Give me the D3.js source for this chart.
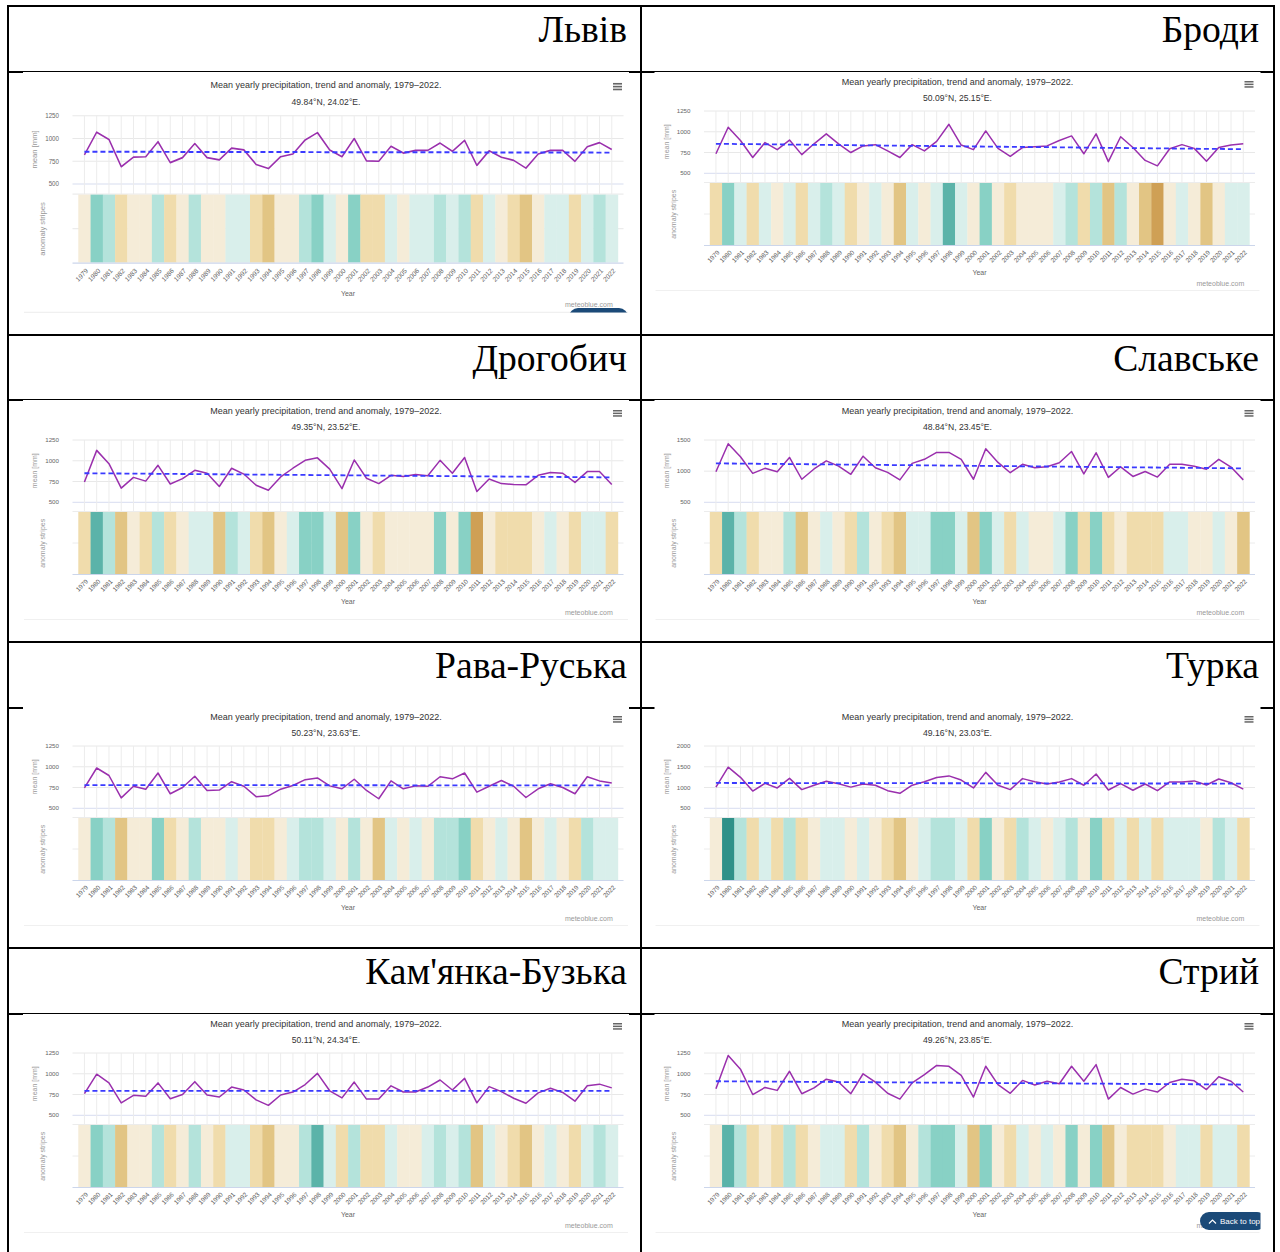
<!DOCTYPE html>
<html>
<head>
<meta charset="utf-8">
<script src="https://cdn.jsdelivr.net/npm/d3@7"></script>
<style>
  html, body { margin: 0; padding: 0; background: #fff; }
  svg { display: block; }
</style>
</head>
<body>
<svg id="page" width="1280" height="1252"></svg>
<script>
// ---------- categories ----------
const years = [1979, 1980, 1981, 1982, 1983, 1984, 1985, 1986, 1987, 1988,
               1989, 1990, 1991, 1992, 1993, 1994, 1995, 1996, 1997, 1998,
               1999, 2000, 2001, 2002, 2003, 2004, 2005, 2006, 2007, 2008,
               2009, 2010, 2011, 2012, 2013, 2014, 2015, 2016, 2017, 2018,
               2019, 2020, 2021, 2022];

const stationNames = ["Львів", "Броди", "Дрогобич", "Славське",
                      "Рава-Руська", "Турка", "Кам'янка-Бузька", "Стрий"];
const stationCoords = ["49.84°N, 24.02°E.", "50.09°N, 25.15°E.", "49.35°N, 23.52°E.", "48.84°N, 23.45°E.",
                       "50.23°N, 23.63°E.", "49.16°N, 23.03°E.", "50.11°N, 24.34°E.", "49.26°N, 23.85°E."];
const chartTitle = "Mean yearly precipitation, trend and anomaly, 1979–2022.";

// ---------- y-axis ticks [mm] ----------
const ticks1250 = [500, 750, 1000, 1250];
const ticks1500 = [500, 1000, 1500];
const ticks2000 = [500, 1000, 1500, 2000];

// ---------- mean yearly precipitation [mm] ----------
const lvivPrecip = [820, 1070, 990, 690, 795, 800, 965, 735, 790, 945,
                    790, 765, 895, 875, 715, 670, 800, 830, 985, 1065,
                    875, 800, 1000, 755, 750, 915, 840, 870, 870, 950,
                    860, 980, 705, 865, 795, 760, 675, 830, 870, 870,
                    750, 910, 955, 880];
const brodyPrecip = [735, 1055, 895, 690, 870, 785, 900, 725, 855, 975,
                     855, 750, 830, 845, 770, 690, 845, 770, 885, 1090,
                     840, 785, 1010, 800, 705, 810, 820, 830, 895, 950,
                     735, 975, 640, 940, 810, 655, 590, 795, 845, 800,
                     645, 810, 840, 855];
const drohobychPrecip = [745, 1125, 965, 670, 800, 755, 945, 720, 785, 885,
                         850, 690, 910, 840, 705, 645, 805, 910, 1005, 1035,
                         900, 665, 1010, 790, 725, 825, 810, 835, 820, 1005,
                         850, 1040, 630, 780, 725, 715, 710, 825, 860, 850,
                         740, 870, 870, 715];
const slavskePrecip = [990, 1440, 1230, 965, 1045, 990, 1220, 870, 1035, 1165,
                       1080, 950, 1240, 1055, 980, 860, 1125, 1190, 1300, 1300,
                       1190, 870, 1360, 1140, 975, 1110, 1055, 1070, 1135, 1315,
                       955, 1295, 900, 1070, 915, 995, 905, 1110, 1110, 1080,
                       1030, 1190, 1065, 860];
const ravaPrecip = [745, 985, 895, 625, 765, 730, 925, 675, 750, 885,
                    715, 720, 820, 765, 640, 650, 730, 775, 845, 865,
                    770, 735, 850, 715, 615, 830, 735, 770, 765, 880,
                    855, 925, 695, 765, 835, 765, 630, 735, 795, 750,
                    675, 880, 830, 805];
const turkaPrecip = [1010, 1490, 1245, 915, 1100, 990, 1220, 950, 1055, 1150,
                     1090, 1010, 1085, 1055, 925, 860, 1055, 1140, 1240, 1280,
                     1180, 990, 1365, 1055, 950, 1215, 1140, 1085, 1135, 1215,
                     1055, 1325, 940, 1095, 935, 1085, 925, 1135, 1135, 1160,
                     1060, 1205, 1115, 960];
const kamiankaPrecip = [760, 995, 890, 650, 740, 730, 890, 700, 750, 905,
                        745, 720, 840, 805, 685, 620, 745, 780, 870, 1005,
                        795, 710, 900, 695, 695, 855, 780, 780, 840, 925,
                        805, 945, 650, 845, 785, 705, 645, 770, 825, 775,
                        670, 855, 875, 830];
const stryiPrecip = [820, 1220, 1055, 750, 835, 800, 1030, 760, 830, 935,
                     900, 760, 1000, 900, 765, 695, 890, 990, 1100, 1090,
                     980, 720, 1090, 870, 765, 920, 865, 910, 880, 1090,
                     910, 1110, 695, 835, 755, 815, 780, 895, 935, 915,
                     810, 965, 910, 780];

// ---------- linear trend, 1979 and 2022 [mm] ----------
const lvivTrend = [855, 845];
const brodyTrend = [855, 790];
const drohobychTrend = [850, 800];
const slavskeTrend = [1125, 1045];
const ravaTrend = [780, 775];
const turkaTrend = [1110, 1095];
const kamiankaTrend = [795, 795];
const stryiTrend = [910, 870];

// ---------- anomaly stripe classes (-4 driest ... +5 wettest) ----------
const lvivStripes = [-1, 3, 2, -2, -1, -1, 2, -2, -1, 2,
                     -1, -1, 1, 1, -2, -3, -1, -1, 2, 3,
                     1, -1, 3, -2, -2, 1, -1, 1, 1, 2,
                     1, 2, -2, 1, -1, -2, -3, -1, 1, 1,
                     -2, 1, 2, 1];
const brodyStripes = [-2, 3, 1, -2, 1, -1, 1, -2, 1, 2,
                      1, -2, -1, 1, -1, -3, 1, -1, 1, 4,
                      1, -1, 3, -1, -2, -1, -1, -1, 1, 2,
                      -2, 2, -3, 2, -1, -3, -4, -1, 1, -1,
                      -3, -1, 1, 1];
const drohobychStripes = [-2, 4, 2, -3, -1, -2, 2, -2, -1, 1,
                          1, -3, 2, 1, -2, -3, -1, 1, 3, 3,
                          1, -3, 3, -1, -2, -1, -1, -1, -1, 3,
                          -1, 3, -4, -1, -2, -2, -2, -1, 1, -1,
                          -2, 1, 1, -2];
const slavskeStripes = [-2, 4, 2, -2, -1, -1, 2, -3, -1, 1,
                        -1, -2, 2, -1, -2, -3, 1, 1, 3, 3,
                        1, -3, 3, 1, -2, 1, -1, -1, 1, 3,
                        -2, 3, -2, -1, -2, -2, -2, 1, 1, -1,
                        -1, 1, -1, -3];
const ravaStripes = [-1, 3, 2, -3, -1, -1, 3, -2, -1, 2,
                     -1, -1, 1, -1, -2, -2, -1, 1, 2, 2,
                     1, -1, 2, -1, -3, 1, -1, 1, -1, 2,
                     2, 3, -2, -1, 1, -1, -3, -1, 1, -1,
                     -2, 2, 1, 1];
const turkaStripes = [-1, 5, 2, -2, 1, -2, 2, -2, -1, 1,
                      1, -1, 1, -1, -2, -3, -1, 1, 2, 2,
                      1, -2, 3, -1, -2, 2, 1, -1, 1, 2,
                      -1, 3, -2, 1, -2, 1, -2, 1, 1, 1,
                      -1, 2, 1, -2];
const kamiankaStripes = [-1, 3, 2, -3, -1, -1, 2, -2, -1, 2,
                         -1, -2, 1, 1, -2, -3, -1, -1, 2, 4,
                         1, -2, 2, -2, -2, 1, -1, -1, 1, 2,
                         1, 2, -3, 1, -1, -2, -3, -1, 1, -1,
                         -2, 1, 2, 1];
const stryiStripes = [-1, 4, 2, -2, -1, -2, 2, -2, -1, 1,
                      1, -2, 2, -1, -2, -3, -1, 2, 3, 3,
                      1, -3, 3, -1, -2, 1, -1, 1, -1, 3,
                      -1, 3, -3, -1, -2, -2, -2, -1, 1, 1,
                      -2, 1, 1, -2];

// panel table assembled from the arrays above
const panels = [
  { precip: lvivPrecip,      trend: lvivTrend,      stripes: lvivStripes,      ticks: ticks1250 },
  { precip: brodyPrecip,     trend: brodyTrend,     stripes: brodyStripes,     ticks: ticks1250 },
  { precip: drohobychPrecip, trend: drohobychTrend, stripes: drohobychStripes, ticks: ticks1250 },
  { precip: slavskePrecip,   trend: slavskeTrend,   stripes: slavskeStripes,   ticks: ticks1500 },
  { precip: ravaPrecip,      trend: ravaTrend,      stripes: ravaStripes,      ticks: ticks1250 },
  { precip: turkaPrecip,     trend: turkaTrend,     stripes: turkaStripes,     ticks: ticks2000 },
  { precip: kamiankaPrecip,  trend: kamiankaTrend,  stripes: kamiankaStripes,  ticks: ticks1250 },
  { precip: stryiPrecip,     trend: stryiTrend,     stripes: stryiStripes,     ticks: ticks1250 }
].map((p, i) => Object.assign(p, { name: stationNames[i], coord: stationCoords[i] }));

// ---------- page layout ----------
const SANS = "'Liberation Sans', Arial, Helvetica, sans-serif";
const SERIF = "'Liberation Serif', 'Times New Roman', serif";
const tableRules = [6, 72, 335, 400, 642, 708, 948, 1014];
const tableCols = [8, 641, 1274];
const headerTops = [6, 335, 642, 948];
const headerRight = [627, 1259];
const chartX0 = [23, 654.5];
const chartW = 606;
// content origin, vertical stretch and white image box of each chart
const boxes = [
  { col: 0, T: 72,   sy: 1.095, top: 72,    bottom: 333 },
  { col: 1, T: 71,   sy: 1,     top: 72,    bottom: 333 },
  { col: 0, T: 400,  sy: 1,     top: 400,   bottom: 640 },
  { col: 1, T: 400,  sy: 1,     top: 400,   bottom: 640 },
  { col: 0, T: 706,  sy: 1,     top: 706.5, bottom: 946 },
  { col: 1, T: 706,  sy: 1,     top: 706.5, bottom: 946 },
  { col: 0, T: 1013, sy: 1,     top: 1014,  bottom: 1252 },
  { col: 1, T: 1013, sy: 1,     top: 1014,  bottom: 1252 }
];

const stripeColor = d3.scaleOrdinal()
  .domain([-4, -3, -2, -1, 1, 2, 3, 4, 5])
  .range(["#cfa055", "#e2c584", "#f0dcac", "#f5ecd8", "#d9efeb", "#b4e3db", "#88d1c5", "#5bb3a9", "#2f9189"]);

const svg = d3.select("#page");

// table rules
svg.append("g").selectAll("line").data(tableRules).join("line")
  .attr("x1", 7).attr("x2", 1275).attr("y1", d => d).attr("y2", d => d)
  .attr("stroke", "#000").attr("stroke-width", 2);
svg.append("g").selectAll("line").data(tableCols).join("line")
  .attr("x1", d => d).attr("x2", d => d).attr("y1", 5).attr("y2", 1252)
  .attr("stroke", "#000").attr("stroke-width", 2);

// station headers
svg.append("g").selectAll("text").data(panels).join("text")
  .attr("x", (d, i) => headerRight[i % 2])
  .attr("y", (d, i) => headerTops[Math.floor(i / 2)] + 36)
  .attr("text-anchor", "end")
  .style("font-family", SERIF).style("font-size", "37.6px").attr("fill", "#000")
  .text(d => d.name);

function drawChart(p, box) {
  const x0 = chartX0[box.col];
  svg.append("rect").attr("x", x0).attr("y", box.top)
    .attr("width", chartW).attr("height", box.bottom - box.top).attr("fill", "#fff");

  const g = svg.append("g").attr("transform", `translate(${x0},${box.T}) scale(1,${box.sy})`);

  const x = d3.scaleBand().domain(years).range([55.3, 594.9]);
  const xc = yr => x(yr) + x.bandwidth() / 2;
  const y = d3.scaleLinear().domain([500, d3.max(p.ticks)]).range([102.3, 40]);

  // title, subtitle
  g.append("text").attr("x", 303).attr("y", 14.2).attr("text-anchor", "middle")
    .style("font-family", SANS).style("font-size", "9px").attr("fill", "#333").text(chartTitle);
  g.append("text").attr("x", 303).attr("y", 29.7).attr("text-anchor", "middle")
    .style("font-family", SANS).style("font-size", "8.6px").attr("fill", "#333").text(p.coord);

  // export menu icon
  g.append("g").selectAll("rect").data([0, 1, 2]).join("rect")
    .attr("x", 590).attr("y", d => 10 + d * 2.6).attr("width", 9).attr("height", 1.5).attr("fill", "#666");

  // horizontal grid of the precipitation pane
  g.append("g").selectAll("line").data(p.ticks).join("line")
    .attr("x1", 49.5).attr("x2", 600.5).attr("y1", d => y(d)).attr("y2", d => y(d))
    .attr("stroke", d => d === 500 ? "#d8ddf0" : "#e8e8e8").attr("stroke-width", 1);

  // vertical grid
  g.append("g").selectAll("line").data(years).join("line")
    .attr("x1", d => xc(d)).attr("x2", d => xc(d)).attr("y1", y(d3.max(p.ticks))).attr("y2", 111.5)
    .attr("stroke", "#ececec").attr("stroke-width", 1);

  // stripes pane grid
  g.append("g").selectAll("line").data([111.5, 143]).join("line")
    .attr("x1", 49.5).attr("x2", 600.5).attr("y1", d => d).attr("y2", d => d)
    .attr("stroke", "#ececec").attr("stroke-width", 1);

  // anomaly stripes
  g.append("g").selectAll("rect").data(years).join("rect")
    .attr("x", d => x(d)).attr("y", 112).attr("width", x.bandwidth() + 0.3).attr("height", 62)
    .attr("fill", (d, i) => stripeColor(p.stripes[i]));

  g.append("line").attr("x1", 49.5).attr("x2", 600.5).attr("y1", 174.5).attr("y2", 174.5)
    .attr("stroke", "#ccd6eb").attr("stroke-width", 1.2);

  // y tick labels
  g.append("g").selectAll("text").data(p.ticks).join("text")
    .attr("x", 36).attr("y", d => y(d)).attr("dy", "0.35em").attr("text-anchor", "end")
    .style("font-family", SANS).style("font-size", "6.2px").attr("fill", "#666").text(d => d);

  // axis titles
  g.append("text").attr("transform", "translate(12,70.7) rotate(-90)").attr("dy", "0.35em")
    .attr("text-anchor", "middle").style("font-family", SANS).style("font-size", "7px")
    .attr("fill", "#999").text("mean [mm]");
  g.append("text").attr("transform", "translate(19.5,143.3) rotate(-90)").attr("dy", "0.35em")
    .attr("text-anchor", "middle").style("font-family", SANS).style("font-size", "7px")
    .attr("fill", "#999").text("anomaly stripes");

  // year labels
  g.append("g").selectAll("text").data(years).join("text")
    .attr("transform", d => `translate(${xc(d) + 4},182) rotate(-45)`)
    .attr("text-anchor", "end").style("font-family", SANS).style("font-size", "6.4px")
    .attr("fill", "#606060").text(d => d);
  g.append("text").attr("x", 325).attr("y", 201.7).attr("dy", "0.35em").attr("text-anchor", "middle")
    .style("font-family", SANS).style("font-size", "7px").attr("fill", "#666").text("Year");

  // precipitation and trend lines
  const line = d3.line().x(d => xc(d[0])).y(d => y(d[1]));
  g.append("path")
    .datum(years.map((yr, i) => [yr, p.precip[i]]))
    .attr("d", line).attr("fill", "none").attr("stroke", "#9a2fad")
    .attr("stroke-width", 1.5).attr("stroke-linejoin", "round");
  g.append("path")
    .datum([[years[0], p.trend[0]], [years[years.length - 1], p.trend[1]]])
    .attr("d", line).attr("fill", "none").attr("stroke", "#3a3aff")
    .attr("stroke-width", 1.8).attr("stroke-dasharray", "5,3");

  // credits and bottom rule
  g.append("text").attr("x", 589.8).attr("y", 212.3).attr("dy", "0.35em").attr("text-anchor", "end")
    .style("font-family", SANS).style("font-size", "7px").attr("fill", "#999").text("meteoblue.com");
  g.append("line").attr("x1", 1).attr("x2", 605).attr("y1", 219.5).attr("y2", 219.5)
    .attr("stroke", "#f0f0f0").attr("stroke-width", 1);
}

panels.forEach((p, i) => drawChart(p, boxes[i]));

// "Back to top" buttons
const defs = svg.append("defs");
defs.append("clipPath").attr("id", "clipTopBtn").append("rect")
  .attr("x", 560).attr("y", 300).attr("width", 80).attr("height", 12.5);
defs.append("clipPath").attr("id", "clipBottomBtn").append("rect")
  .attr("x", 1190).attr("y", 1205).attr("width", 70.5).attr("height", 30);

svg.append("rect").attr("clip-path", "url(#clipTopBtn)")
  .attr("x", 569).attr("y", 308).attr("width", 59).attr("height", 18).attr("rx", 9)
  .attr("fill", "#1b4a78");

const btn = svg.append("g").attr("clip-path", "url(#clipBottomBtn)");
btn.append("rect").attr("x", 1200).attr("y", 1212).attr("width", 66).attr("height", 18).attr("rx", 9)
  .attr("fill", "#1b4a78");
btn.append("path").attr("d", "M1209,1223.5 L1212.5,1220 L1216,1223.5")
  .attr("fill", "none").attr("stroke", "#fff").attr("stroke-width", 1.2);
btn.append("text").attr("x", 1220).attr("y", 1224).style("font-family", SANS).style("font-size", "8px")
  .attr("fill", "#fff").text("Back to top");
</script>
</body>
</html>
